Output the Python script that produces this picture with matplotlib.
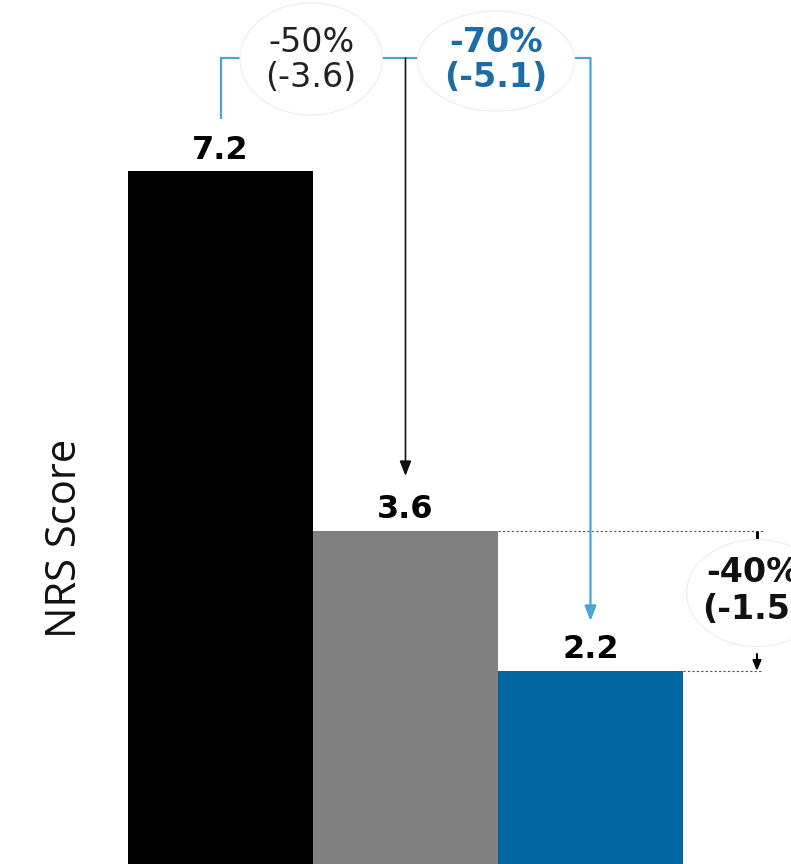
import matplotlib
matplotlib.use("Agg")
import matplotlib.pyplot as plt
from matplotlib.patches import Ellipse

# Data
groups = ["Baseline", "Treatment A", "Treatment B"]
scores = [7.2, 3.6, 2.2]
bar_colors = ["#000000", "#808080", "#0067A3"]
change_labels = ["-50%\n(-3.6)", "-70%\n(-5.1)", "-40%\n(-1.5)"]

LIGHT_BLUE = "#4AA5D6"
DARK_BLUE = "#1C6DA6"

fig = plt.figure(figsize=(7.91, 8.64), dpi=100)
ax = fig.add_axes([0, 0, 1, 1])
ax.set_xlim(-1.192, 3.084)
ax.set_ylim(0.27, 8.91)
ax.axis("off")

xs = list(range(len(scores)))
ax.bar(xs, scores, width=1.0, color=bar_colors, zorder=2)

# Value labels above bars
for x, v in zip(xs, scores):
    ax.text(x, v + 0.21, f"{v}", ha="center", va="center",
            fontsize=23, fontweight="bold", family="DejaVu Sans", zorder=5)

# Bracket from the first bar to the third bar
top = 8.33
ax.plot([xs[0], xs[0], xs[2]], [scores[0] + 0.53, top, top],
        color=LIGHT_BLUE, lw=1.6, solid_joinstyle="miter", zorder=3)
ax.annotate("", xy=(xs[2], scores[2] + 0.5), xytext=(xs[2], top),
            arrowprops=dict(arrowstyle="-|>,head_length=0.9,head_width=0.35",
                            color=LIGHT_BLUE, lw=1.6, shrinkA=0, shrinkB=0),
            zorder=3)

# Arrow from the bracket down to the second bar
ax.annotate("", xy=(xs[1], scores[1] + 0.55), xytext=(xs[1], top),
            arrowprops=dict(arrowstyle="-|>,head_length=0.9,head_width=0.35",
                            color="#111111", lw=1.2, shrinkA=0, shrinkB=0),
            zorder=3)

# Percentage-change bubbles on the bracket
ax.add_patch(Ellipse((0.49, top - 0.01), 0.77, 1.12, facecolor="white",
                     edgecolor="#ececec", lw=0.8, zorder=4))
ax.add_patch(Ellipse((1.49, top - 0.03), 0.85, 1.0, facecolor="white",
                     edgecolor="#ececec", lw=0.8, zorder=4))
ax.text(0.49, top - 0.02, change_labels[0], ha="center", va="center",
        fontsize=24, family="DejaVu Sans", color="#222222",
        linespacing=1.05, zorder=5)
ax.text(1.49, top - 0.02, change_labels[1], ha="center", va="center",
        fontsize=24, fontweight="bold", family="DejaVu Sans", color=DARK_BLUE,
        linespacing=1.05, zorder=5)

# Difference between second and third bars
xr = 2.9
ax.plot([xs[1] + 0.5, 2.93], [scores[1], scores[1]], ls=(0, (2, 2)),
        color="#555555", lw=0.8, zorder=1)
ax.plot([xs[2] + 0.5, 2.93], [scores[2], scores[2]], ls=(0, (2, 2)),
        color="#555555", lw=0.8, zorder=1)
ax.plot([xr, xr], [scores[1], scores[1] - 0.09], color="#000000", lw=2.2,
        solid_capstyle="butt", zorder=3)
ax.annotate("", xy=(xr, scores[2]), xytext=(xr, scores[2] + 0.17),
            arrowprops=dict(arrowstyle="-|>,head_length=0.6,head_width=0.25",
                            color="#000000", lw=1.5, shrinkA=0, shrinkB=0),
            zorder=3)
mid = (scores[1] + scores[2]) / 2
ax.add_patch(Ellipse((xr, mid + 0.08), 0.76, 1.07, facecolor="white",
                     edgecolor="#ececec", lw=0.8, zorder=4))
ax.text(xr - 0.02, mid + 0.1, change_labels[2], ha="center", va="center",
        fontsize=24, fontweight="bold", family="DejaVu Sans", color="#111111",
        linespacing=1.15, zorder=5)

# Axis title
fig.text(65 / 791, 1 - 538 / 864, "NRS Score", rotation=90, ha="center",
         va="center", fontsize=30, family="Open Sans", color="#111111")

fig.savefig("out.png", dpi=100)
